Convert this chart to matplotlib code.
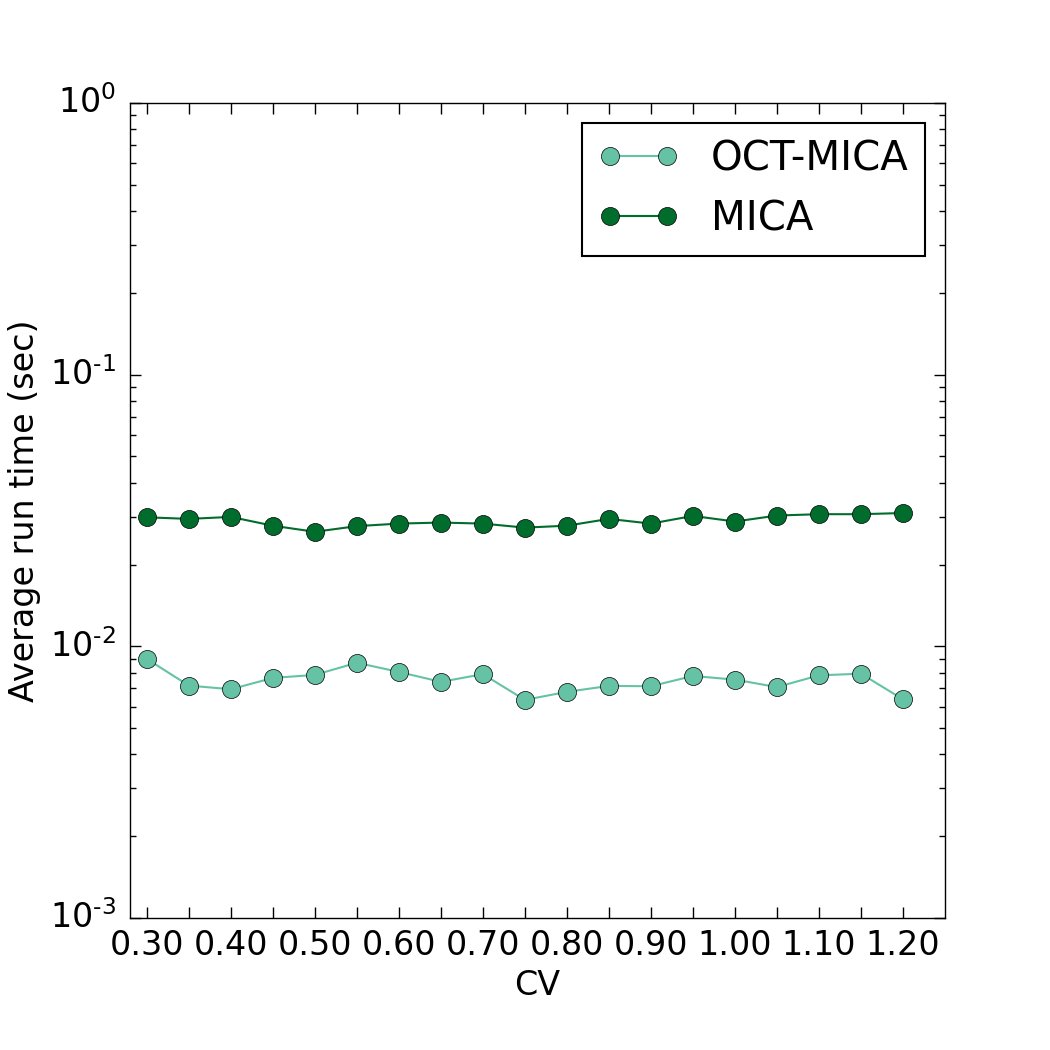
import matplotlib
matplotlib.use("Agg")
import matplotlib.pyplot as plt
from matplotlib.ticker import FuncFormatter
import numpy as np

plt.style.use('classic')
plt.rcParams['mathtext.fontset'] = 'dejavusans'
plt.rcParams['mathtext.default'] = 'regular'
plt.rcParams['axes.unicode_minus'] = False
plt.rcParams['font.family'] = ['DejaVu Sans']

cv = [0.30, 0.35, 0.40, 0.45, 0.50, 0.55, 0.60, 0.65, 0.70, 0.75,
      0.80, 0.85, 0.90, 0.95, 1.00, 1.05, 1.10, 1.15, 1.20]
oct_mica = [0.00899, 0.00717, 0.00695, 0.00765, 0.00785, 0.00870, 0.00805, 0.00740, 0.00790, 0.00635,
            0.00680, 0.00715, 0.00713, 0.00778, 0.00754, 0.00708, 0.00782, 0.00793, 0.00638]
mica = [0.02985, 0.02945, 0.02995, 0.02780, 0.02640, 0.02770, 0.02830, 0.02855, 0.02830, 0.02735,
        0.02780, 0.02945, 0.02830, 0.03020, 0.02880, 0.03030, 0.03065, 0.03065, 0.03095]
series_labels = ['OCT-MICA', 'MICA']
xtick_labels = ['0.30', '0.40', '0.50', '0.60', '0.70', '0.80', '0.90', '1.00', '1.10', '1.20']

fig = plt.figure(figsize=(10.5, 10.5), dpi=100, facecolor='white')
ax = fig.add_axes([130/1050, 1 - 918/1050, (945-130)/1050, (918-103)/1050])

ax.plot(cv, oct_mica, '-o', color='#66c2a4', markerfacecolor='#66c2a4', markeredgecolor='black',
        markersize=13, linewidth=1.5, label=series_labels[0])
ax.plot(cv, mica, '-o', color='#006d2c', markerfacecolor='#006d2c', markeredgecolor='black',
        markersize=13, linewidth=1.5, label=series_labels[1])

ax.set_yscale('log')
ax.set_ylim(1e-3, 1e0)
ax.set_xlim(0.28, 1.25)


def log_fmt(v, pos):
    e = int(round(np.log10(v)))
    s = str(e).replace('-', r'\text{-}')
    return r'$10^{%s}$' % s


ax.yaxis.set_major_formatter(FuncFormatter(log_fmt))
ax.set_xticks(cv)
lbls = []
for i, v in enumerate(cv):
    lbls.append(xtick_labels[i // 2] if i % 2 == 0 else '')
ax.set_xticklabels(lbls)
ax.tick_params(axis='both', which='major', labelsize=24, length=8, width=1, direction='in', top=True, right=True, pad=8)
ax.tick_params(axis='y', which='major', pad=10)
ax.tick_params(axis='both', which='minor', length=4, width=1, direction='in', top=True, right=True)

ax.set_xlabel('CV', fontsize=24)
ax.set_ylabel('Average run time (sec)', fontsize=24)
ax.yaxis.set_label_coords(-0.109, 0.5)

leg = ax.legend(loc='upper right', numpoints=2, fontsize=29, fancybox=False, borderaxespad=0.5)
leg.get_frame().set_edgecolor('black')
leg.get_frame().set_linewidth(1.5)

fig.savefig('out.png', dpi=100, facecolor='white')
